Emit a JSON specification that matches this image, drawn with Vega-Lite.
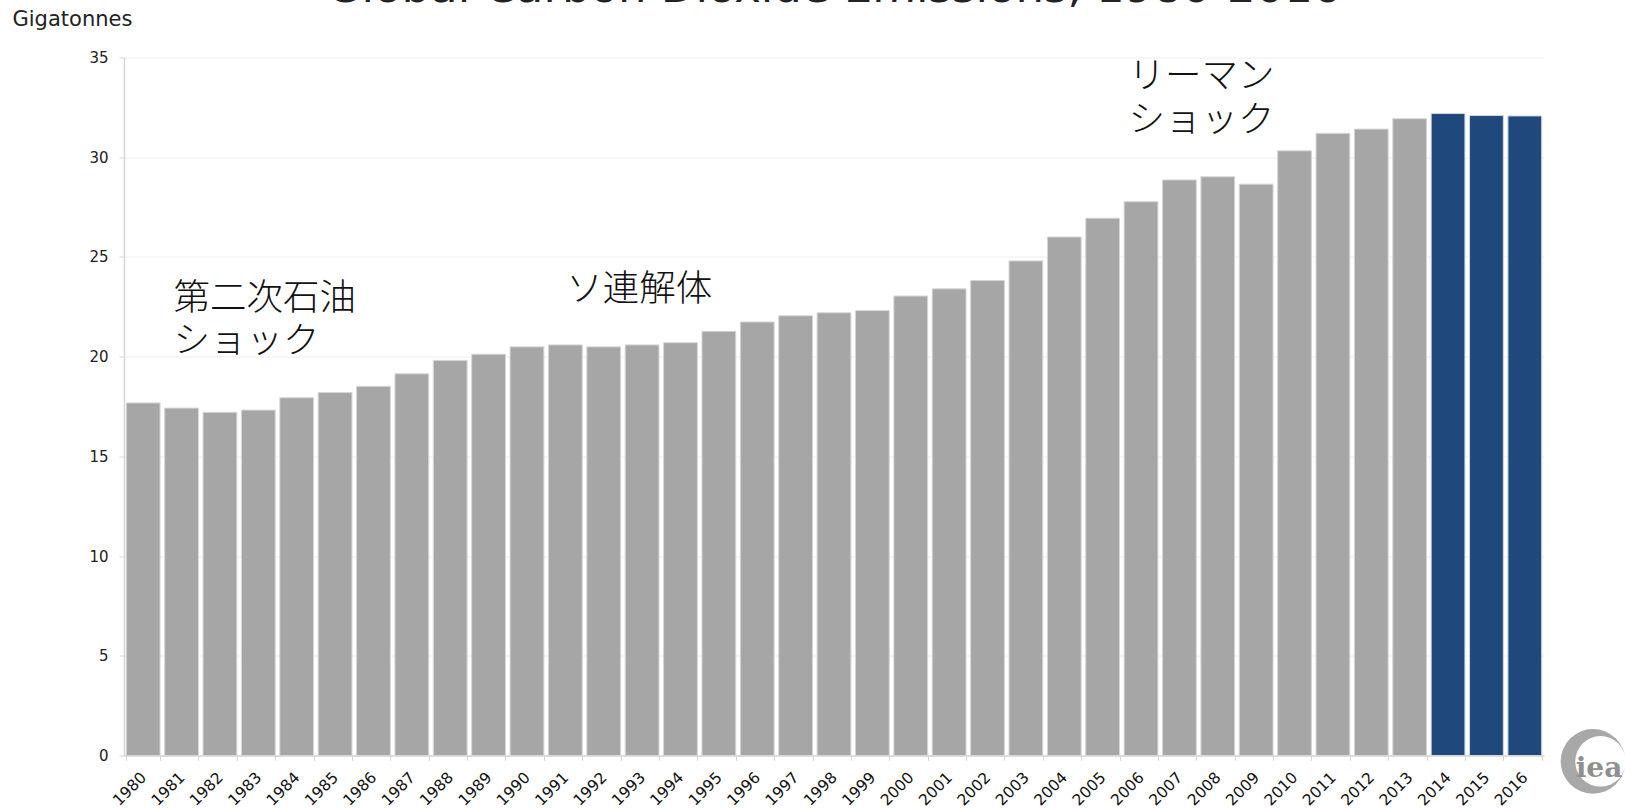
{
  "$schema": "https://vega.github.io/schema/vega-lite/v6.json",
  "width": 1420,
  "height": 698,
  "autosize": {"type": "none"},
  "padding": {"left": 124, "top": 57.5, "right": 81, "bottom": 53.5},
  "background": "white",
  "config": {"view": {"stroke": null}, "font": "DejaVu Sans"},
  "title": {
    "text": "Global Carbon Dioxide Emissions, 1980-2016",
    "font": "DejaVu Sans",
    "fontSize": 45,
    "fontWeight": "normal",
    "color": "#222222",
    "anchor": "middle",
    "baseline": "alphabetic",
    "offset": -39
  },
  "datasets": {
    "emissions": [
      {"year": "1980", "value": 17.68, "group": "hist"},
      {"year": "1981", "value": 17.42, "group": "hist"},
      {"year": "1982", "value": 17.21, "group": "hist"},
      {"year": "1983", "value": 17.32, "group": "hist"},
      {"year": "1984", "value": 17.94, "group": "hist"},
      {"year": "1985", "value": 18.2, "group": "hist"},
      {"year": "1986", "value": 18.51, "group": "hist"},
      {"year": "1987", "value": 19.14, "group": "hist"},
      {"year": "1988", "value": 19.81, "group": "hist"},
      {"year": "1989", "value": 20.12, "group": "hist"},
      {"year": "1990", "value": 20.49, "group": "hist"},
      {"year": "1991", "value": 20.59, "group": "hist"},
      {"year": "1992", "value": 20.49, "group": "hist"},
      {"year": "1993", "value": 20.59, "group": "hist"},
      {"year": "1994", "value": 20.7, "group": "hist"},
      {"year": "1995", "value": 21.27, "group": "hist"},
      {"year": "1996", "value": 21.74, "group": "hist"},
      {"year": "1997", "value": 22.05, "group": "hist"},
      {"year": "1998", "value": 22.2, "group": "hist"},
      {"year": "1999", "value": 22.31, "group": "hist"},
      {"year": "2000", "value": 23.04, "group": "hist"},
      {"year": "2001", "value": 23.4, "group": "hist"},
      {"year": "2002", "value": 23.82, "group": "hist"},
      {"year": "2003", "value": 24.8, "group": "hist"},
      {"year": "2004", "value": 26.0, "group": "hist"},
      {"year": "2005", "value": 26.94, "group": "hist"},
      {"year": "2006", "value": 27.77, "group": "hist"},
      {"year": "2007", "value": 28.86, "group": "hist"},
      {"year": "2008", "value": 29.02, "group": "hist"},
      {"year": "2009", "value": 28.65, "group": "hist"},
      {"year": "2010", "value": 30.32, "group": "hist"},
      {"year": "2011", "value": 31.2, "group": "hist"},
      {"year": "2012", "value": 31.41, "group": "hist"},
      {"year": "2013", "value": 31.93, "group": "hist"},
      {"year": "2014", "value": 32.19, "group": "recent"},
      {"year": "2015", "value": 32.09, "group": "recent"},
      {"year": "2016", "value": 32.07, "group": "recent"}
    ],
    "notes": [
      {"note": "oil", "year": "1981", "value": 22.89, "text": "第二次石油"},
      {"note": "oil", "year": "1981", "value": 20.74, "text": "ショック"},
      {"note": "ussr", "year": "1991", "value": 23.34, "text": "ソ連解体"},
      {"note": "lehman", "year": "2006", "value": 34.0, "text": "リーマン"},
      {"note": "lehman", "year": "2006", "value": 31.81, "text": "ショック"}
    ],
    "logo": [
      {"year": "2016", "value": 0, "text": "iea"}
    ]
  },
  "layer": [
    {
      "data": {"name": "emissions"},
      "mark": {"type": "bar", "stroke": "#d6d6d6", "strokeWidth": 1},
      "encoding": {
        "x": {
          "field": "year",
          "type": "nominal",
          "sort": null,
          "scale": {"paddingInner": 0.12, "paddingOuter": 0.06},
          "axis": {
            "title": null,
            "labelAngle": -45,
            "labelAlign": "right",
            "labelBaseline": "middle",
            "labelFont": "DejaVu Sans",
            "labelFontSize": 15.5,
            "labelColor": "#111111",
            "labelPadding": 14,
            "tickBand": "extent",
            "tickSize": 5,
            "tickColor": "#d6d6d6",
            "domainColor": "#d6d6d6",
            "domainWidth": 1.5,
            "grid": false
          }
        },
        "y": {
          "field": "value",
          "type": "quantitative",
          "scale": {"domain": [0, 35], "nice": false},
          "axis": {
            "title": "Gigatonnes",
            "titleAngle": 0,
            "titleAlign": "left",
            "titleBaseline": "alphabetic",
            "titleX": -112,
            "titleY": -32.5,
            "titleFont": "DejaVu Sans",
            "titleFontSize": 21,
            "titleFontWeight": "normal",
            "titleColor": "#222222",
            "values": [0, 5, 10, 15, 20, 25, 30, 35],
            "labelFont": "DejaVu Sans",
            "labelFontSize": 15,
            "labelColor": "#222222",
            "labelPadding": 11,
            "tickSize": 5,
            "tickColor": "#d6d6d6",
            "domainColor": "#d6d6d6",
            "domainWidth": 1.5,
            "gridColor": "#eeeeee",
            "gridWidth": 1
          }
        },
        "color": {
          "field": "group",
          "type": "nominal",
          "scale": {"domain": ["hist", "recent"], "range": ["#a6a6a6", "#1f497c"]},
          "legend": null
        }
      }
    },
    {
      "data": {"name": "notes"},
      "transform": [{"filter": "datum.note === 'oil'"}],
      "mark": {"type": "text", "align": "left", "baseline": "middle", "font": "Noto Sans CJK JP", "fontWeight": 300, "fontSize": 36.5, "color": "#111111", "dx": -8},
      "encoding": {
        "x": {"field": "year", "type": "nominal", "sort": null},
        "y": {"field": "value", "type": "quantitative"},
        "text": {"field": "text"}
      }
    },
    {
      "data": {"name": "notes"},
      "transform": [{"filter": "datum.note === 'ussr'"}],
      "mark": {"type": "text", "align": "left", "baseline": "middle", "font": "Noto Sans CJK JP", "fontWeight": 300, "fontSize": 36.5, "color": "#111111", "dx": 1},
      "encoding": {
        "x": {"field": "year", "type": "nominal", "sort": null},
        "y": {"field": "value", "type": "quantitative"},
        "text": {"field": "text"}
      }
    },
    {
      "data": {"name": "notes"},
      "transform": [{"filter": "datum.note === 'lehman'"}],
      "mark": {"type": "text", "align": "left", "baseline": "middle", "font": "Noto Sans CJK JP", "fontWeight": 300, "fontSize": 36.5, "color": "#111111", "dx": -12.5},
      "encoding": {
        "x": {"field": "year", "type": "nominal", "sort": null},
        "y": {"field": "value", "type": "quantitative"},
        "text": {"field": "text"}
      }
    },
    {
      "data": {"name": "logo"},
      "mark": {"type": "point", "shape": "circle", "filled": true, "color": "#a8a8a8", "opacity": 1, "size": 4185, "xOffset": 68.2, "yOffset": 5.8},
      "encoding": {
        "x": {"field": "year", "type": "nominal", "sort": null},
        "y": {"field": "value", "type": "quantitative"}
      }
    },
    {
      "data": {"name": "logo"},
      "mark": {"type": "point", "shape": "circle", "filled": true, "color": "#ffffff", "opacity": 1, "size": 2552, "xOffset": 75.7, "yOffset": 5.8},
      "encoding": {
        "x": {"field": "year", "type": "nominal", "sort": null},
        "y": {"field": "value", "type": "quantitative"}
      }
    },
    {
      "data": {"name": "logo"},
      "mark": {"type": "text", "align": "center", "baseline": "alphabetic", "font": "DejaVu Serif", "fontWeight": "bold", "fontSize": 28, "color": "#8f8f8f", "dx": 74.2, "dy": 21},
      "encoding": {
        "x": {"field": "year", "type": "nominal", "sort": null},
        "y": {"field": "value", "type": "quantitative"},
        "text": {"field": "text"}
      }
    }
  ]
}
